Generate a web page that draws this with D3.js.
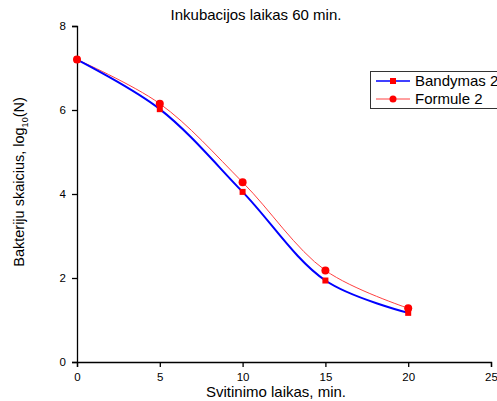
<!DOCTYPE html>
<html>
<head>
<meta charset="utf-8">
<script src="https://cdn.jsdelivr.net/npm/d3@7"></script>
<style>
  body { margin: 0; background: #fff; }
  text { font-family: 'Liberation Sans', Arial, sans-serif; }
</style>
</head>
<body>
<div id="chart"></div>
<script>
const times = [0, 5, 10, 15, 20]
const bandymas = [7.2, 6.02, 4.05, 1.94, 1.17]
const formule = [7.2, 6.15, 4.28, 2.18, 1.28]
const xTicks = [0, 5, 10, 15, 20, 25]
const yTicks = [0, 2, 4, 6, 8]

const width = 497
const height = 401
const margin = { left: 77, top: 26, right: 6, bottom: 39 }

const svg = d3.select('#chart')
  .append('svg')
  .attr('width', width)
  .attr('height', height)

const x = d3.scaleLinear()
  .domain([0, 25])
  .range([margin.left, 491])

const y = d3.scaleLinear()
  .domain([0, 8])
  .range([height - margin.bottom, margin.top])

// axes with minor ticks
const xAxis = svg.append('g')
  .attr('transform', `translate(0, ${y(0)})`)
xAxis.call(d3.axisBottom(x).tickValues(d3.range(0, 25.1, 2.5)).tickSize(5).tickFormat(''))
xAxis.call(d3.axisBottom(x).tickValues(xTicks).tickSize(5).tickPadding(6).tickFormat(d3.format('d')))
xAxis.selectAll('text').attr('font-size', 11.5)

const yAxis = svg.append('g')
  .attr('transform', `translate(${x(0)}, 0)`)
yAxis.call(d3.axisLeft(y).tickValues(d3.range(0, 8.1, 1)).tickSize(5).tickFormat(''))
yAxis.call(d3.axisLeft(y).tickValues(yTicks).tickSize(5).tickPadding(6).tickFormat(d3.format('d')))
yAxis.selectAll('text').attr('font-size', 11.5)

svg.selectAll('.domain, .tick line').attr('stroke', '#000').attr('stroke-width', 1.3)

// titles
svg.append('text')
  .attr('x', 256)
  .attr('y', 20)
  .attr('text-anchor', 'middle')
  .attr('font-size', 15)
  .text('Inkubacijos laikas 60 min.')

svg.append('text')
  .attr('x', 276)
  .attr('y', 397)
  .attr('text-anchor', 'middle')
  .attr('font-size', 15)
  .text('Svitinimo laikas, min.')

const yLabel = svg.append('text')
  .attr('transform', 'translate(24, 182) rotate(-90)')
  .attr('text-anchor', 'middle')
  .attr('font-size', 14.5)
yLabel.append('tspan').text('Bakteriju skaicius, log')
yLabel.append('tspan').attr('font-size', 9).attr('dy', 4).text('10')
yLabel.append('tspan').attr('dy', -4).text('(N)')

const line = d3.line()
  .x((d, i) => x(times[i]))
  .y(d => y(d))
  .curve(d3.curveCatmullRom.alpha(0.5))

svg.append('path')
  .datum(formule)
  .attr('fill', 'none')
  .attr('stroke', '#ff4040')
  .attr('stroke-width', 1)
  .attr('d', line)

svg.append('path')
  .datum(bandymas)
  .attr('fill', 'none')
  .attr('stroke', '#0000ff')
  .attr('stroke-width', 2)
  .attr('d', line)

svg.selectAll('rect.pt')
  .data(bandymas)
  .join('rect')
  .attr('class', 'pt')
  .attr('x', (d, i) => x(times[i]) - 3)
  .attr('y', d => y(d) - 3)
  .attr('width', 6)
  .attr('height', 6)
  .attr('fill', '#ff0000')

svg.selectAll('circle.pt')
  .data(formule)
  .join('circle')
  .attr('class', 'pt')
  .attr('cx', (d, i) => x(times[i]))
  .attr('cy', d => y(d))
  .attr('r', 4)
  .attr('fill', '#ff0000')

// legend
const legend = svg.append('g')
svg.append('rect')
  .attr('x', 370.5)
  .attr('y', 71.5)
  .attr('width', 140)
  .attr('height', 37)
  .attr('fill', 'none')
  .attr('stroke', '#333')

const entries = [
  { name: 'Bandymas 2', color: '#0000ff', width: 1.5, marker: 'square' },
  { name: 'Formule 2', color: '#ff4040', width: 1, marker: 'circle' }
]
entries.forEach((e, i) => {
  const ly = 81 + i * 18
  legend.append('line')
    .attr('x1', 376).attr('x2', 410)
    .attr('y1', ly).attr('y2', ly)
    .attr('stroke', e.color)
    .attr('stroke-width', e.width)
  if (e.marker === 'square') {
    legend.append('rect')
      .attr('x', 390).attr('y', ly - 3)
      .attr('width', 6).attr('height', 6)
      .attr('fill', '#ff0000')
  } else {
    legend.append('circle')
      .attr('cx', 393).attr('cy', ly)
      .attr('r', 3.5)
      .attr('fill', '#ff0000')
  }
  legend.append('text')
    .attr('x', 415)
    .attr('y', ly + 5)
    .attr('font-size', 15)
    .text(e.name)
})
</script>
</body>
</html>
